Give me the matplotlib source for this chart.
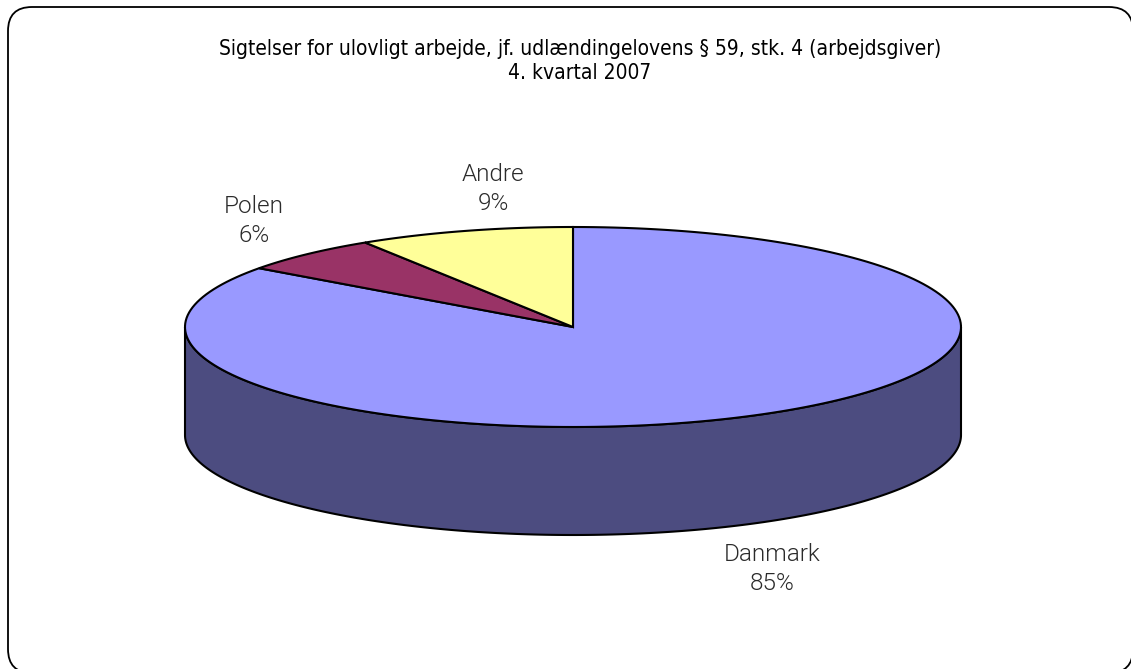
import numpy as np
import matplotlib
matplotlib.use("Agg")
import matplotlib.pyplot as plt
from matplotlib.patches import Polygon, FancyBboxPatch

# --------------------
# Data
# --------------------
labels = ["Danmark", "Polen", "Andre"]
shares = [85, 6, 9]
top_colors = ["#9999FF", "#993366", "#FFFF99"]
side_colors = ["#4C4C80", "#4D1A33", "#80804D"]
label_pos = [(772, 569), (254, 221), (493, 189)]

title = ("Sigtelser for ulovligt arbejde, jf. udlændingelovens § 59, stk. 4 (arbejdsgiver)\n"
         "4. kvartal 2007")

# --------------------
# Geometry (pixels)
# --------------------
W, H = 1131, 669
cx, cy = 573, 327
rx, ry = 388, 100
depth = 108


def arc(t1, t2, yoff=0.0, n=200):
    t = np.deg2rad(np.linspace(t1, t2, n))
    return np.column_stack([cx + rx * np.cos(t), cy + yoff - ry * np.sin(t)])


fig = plt.figure(figsize=(W / 100, H / 100), dpi=100)
ax = fig.add_axes([0, 0, 1, 1])
ax.set_xlim(0, W)
ax.set_ylim(H, 0)
ax.axis("off")

# rounded frame (runs off the right and bottom edges like the original)
frame = FancyBboxPatch((8, 7), 1125, 666,
                       boxstyle="round,pad=0,rounding_size=24",
                       fc="white", ec="black", lw=1.3)
ax.add_patch(frame)

# slice angles: start at 12 o'clock, go clockwise
fracs = np.array(shares, dtype=float) / sum(shares)
ends = 90 - 360 * np.cumsum(fracs)
starts = np.concatenate([[90], ends[:-1]])

# side walls (front half only: math angles between -180 and 0)
for s, e, col in zip(starts, ends, side_colors):
    lo, hi = e, s
    for shift in (0, -360, 360):
        a = max(lo + shift, -180)
        b = min(hi + shift, 0)
        if b > a:
            top = arc(a, b)
            bot = arc(b, a, depth)
            ax.add_patch(Polygon(np.vstack([top, bot]), closed=True,
                                 fc=col, ec="black", lw=1.5, zorder=2))

# top faces
for s, e, col in zip(starts, ends, top_colors):
    pts = np.vstack([[cx, cy], arc(s, e)])
    ax.add_patch(Polygon(pts, closed=True, fc=col, ec="black",
                         lw=1.5, joinstyle="miter", zorder=3))

# labels
for lab, sh, (x, y) in zip(labels, shares, label_pos):
    ax.text(x, y, f"{lab}\n{sh}%", ha="center", va="center",
            fontsize=17.5, color="#2b2b2b", linespacing=1.3,
            family=["Roboto", "DejaVu Sans"], fontweight=300)

ax.text(580, 61, title, ha="center", va="center", fontsize=15,
        linespacing=1.3, family=["DejaVu Sans Condensed", "DejaVu Sans"],
        fontstretch="condensed")

fig.savefig("out.png", dpi=100)
